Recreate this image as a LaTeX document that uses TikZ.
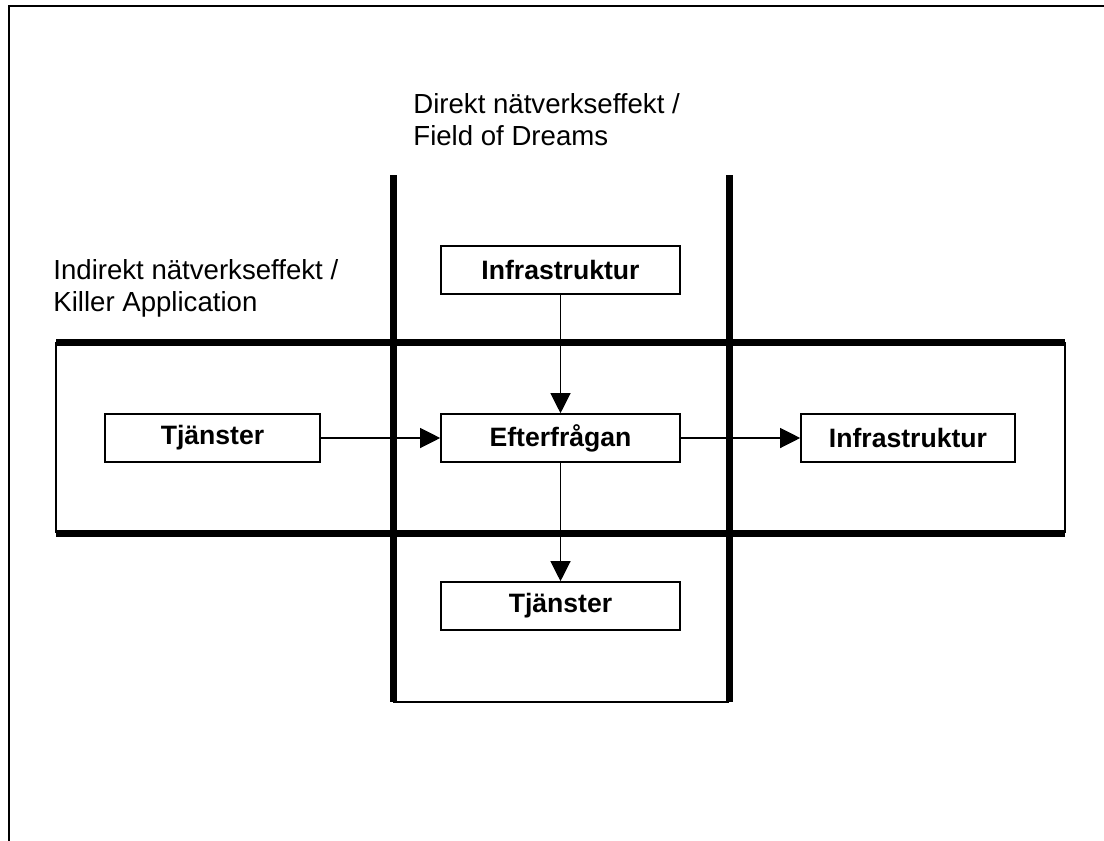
\documentclass[tikz,border=0pt]{standalone}
\usepackage{fontspec}
\setmainfont{Liberation Sans}
\usepackage{tikz}
\usetikzlibrary{arrows.meta,positioning}
\tikzstyle{diagram}=[
  x=0.5pt,y=-0.5pt,font=\fontsize{13.8}{16}\selectfont
]
\tikzstyle{frameline}=[
  line width=1pt
]
\tikzstyle{bandline}=[
  line width=3.5pt
]
\tikzstyle{sideline}=[
  line width=0.9pt
]
\tikzstyle{box}=[
  draw,line width=0.8pt,fill=white,minimum height=24pt,inner sep=0pt,
  font=\fontsize{13.3}{16}\selectfont\bfseries
]
\tikzstyle{flow}=[
  line width=0.6pt,-{Triangle[length=10pt,width=10pt]}
]
\tikzstyle{label}=[
  anchor=north west,inner sep=0pt,align=left
]
\begin{document}
\begin{tikzpicture}[diagram]
  \useasboundingbox (0,0) rectangle (1104,841);
  % page frame
  \draw [frameline] (9,841) -- (9,6) -- (1104,6);
  % horizontal band (indirect effect)
  \coordinate (hTL) at (56,342);
  \coordinate (hTR) at (1065,342);
  \coordinate (hBL) at (56,533);
  \coordinate (hBR) at (1065,533);
  \draw [sideline] (hTL) -- (hBL);
  \draw [sideline] (hTR) -- (hBR);
  \draw [bandline] (hTL) -- (hTR);
  \draw [bandline] (hBL) -- (hBR);
  % vertical band (direct effect)
  \coordinate (vTL) at (393,175);
  \coordinate (vTR) at (729,175);
  \coordinate (vBL) at (393,702);
  \coordinate (vBR) at (729,702);
  \draw [sideline] (vBL) -- (vBR);
  \draw [bandline] (vTL) -- (vBL);
  \draw [bandline] (vTR) -- (vBR);
  % labels
  \node (direkt) [label] at (413,93) {Direkt nätverkseffekt /\\Field of Dreams};
  \node (indirekt) [label] at (53,259) {Indirekt nätverkseffekt /\\Killer Application};
  % boxes
  \node (infraTop) [box,minimum width=119.5pt] at (560.5,270) {Infrastruktur};
  \node (eft) [box,minimum width=119.5pt] at (560.5,438) {Efterfrågan};
  \node (tjL) [box,minimum width=107.5pt] at (212.5,438) {Tjänster};
  \node (infraR) [box,minimum width=107pt] at (908,438) {Infrastruktur};
  \node (tjB) [box,minimum width=119.5pt] at (560.5,606) {Tjänster};
  % arrows
  \draw [flow] (tjL) -- (eft);
  \draw [flow] (eft) -- (infraR);
  \draw [flow] (infraTop) -- (eft);
  \draw [flow] (eft) -- (tjB);
\end{tikzpicture}
\end{document}
